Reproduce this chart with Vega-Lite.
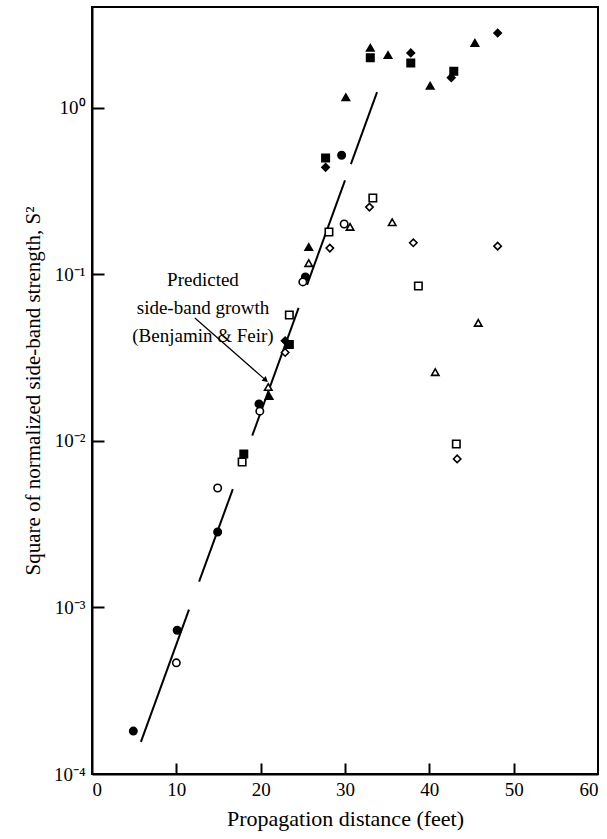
{
  "$schema": "https://vega.github.io/schema/vega-lite/v6.json",
  "width": 506,
  "height": 767,
  "autosize": "none",
  "padding": {"left": 92, "top": 7, "right": 9, "bottom": 65},
  "background": "white",
  "config": {
    "view": {"stroke": "black", "strokeWidth": 2},
    "font": "Liberation Serif",
    "axis": {"grid": false, "domainColor": "black", "domainWidth": 2, "tickColor": "black", "tickWidth": 2, "labelColor": "black", "titleColor": "black", "labelFont": "Liberation Serif", "titleFont": "Liberation Serif", "titleFontWeight": "normal", "zindex": 1}
  },
  "resolve": {"axis": {"x": "independent", "y": "independent"}},
  "datasets": {
    "points": [
      {"x": 4.9, "y": 0.000181, "shape": "circle", "fill": "solid"},
      {"x": 10.1, "y": 0.00073, "shape": "circle", "fill": "solid"},
      {"x": 14.9, "y": 0.00284, "shape": "circle", "fill": "solid"},
      {"x": 19.8, "y": 0.0167, "shape": "circle", "fill": "solid"},
      {"x": 25.3, "y": 0.0966, "shape": "circle", "fill": "solid"},
      {"x": 29.6, "y": 0.52, "shape": "circle", "fill": "solid"},
      {"x": 10.0, "y": 0.000465, "shape": "circle", "fill": "open"},
      {"x": 14.9, "y": 0.00522, "shape": "circle", "fill": "open"},
      {"x": 19.9, "y": 0.0151, "shape": "circle", "fill": "open"},
      {"x": 25.0, "y": 0.0902, "shape": "circle", "fill": "open"},
      {"x": 29.9, "y": 0.201, "shape": "circle", "fill": "open"},
      {"x": 21.0, "y": 0.0186, "shape": "triangle-up", "fill": "solid"},
      {"x": 25.7, "y": 0.146, "shape": "triangle-up", "fill": "solid"},
      {"x": 30.1, "y": 1.16, "shape": "triangle-up", "fill": "solid"},
      {"x": 33.0, "y": 2.3, "shape": "triangle-up", "fill": "solid"},
      {"x": 35.1, "y": 2.08, "shape": "triangle-up", "fill": "solid"},
      {"x": 40.1, "y": 1.36, "shape": "triangle-up", "fill": "solid"},
      {"x": 45.4, "y": 2.46, "shape": "triangle-up", "fill": "solid"},
      {"x": 20.9, "y": 0.0211, "shape": "triangle-up", "fill": "open"},
      {"x": 25.7, "y": 0.117, "shape": "triangle-up", "fill": "open"},
      {"x": 30.6, "y": 0.193, "shape": "triangle-up", "fill": "open"},
      {"x": 35.6, "y": 0.206, "shape": "triangle-up", "fill": "open"},
      {"x": 40.7, "y": 0.0259, "shape": "triangle-up", "fill": "open"},
      {"x": 45.8, "y": 0.0512, "shape": "triangle-up", "fill": "open"},
      {"x": 18.0, "y": 0.00835, "shape": "square", "fill": "solid"},
      {"x": 23.4, "y": 0.038, "shape": "square", "fill": "solid"},
      {"x": 27.7, "y": 0.5, "shape": "square", "fill": "solid"},
      {"x": 33.0, "y": 2.0, "shape": "square", "fill": "solid"},
      {"x": 37.8, "y": 1.86, "shape": "square", "fill": "solid"},
      {"x": 42.9, "y": 1.66, "shape": "square", "fill": "solid"},
      {"x": 22.9, "y": 0.04, "shape": "diamond", "fill": "solid"},
      {"x": 27.7, "y": 0.44, "shape": "diamond", "fill": "solid"},
      {"x": 37.8, "y": 2.14, "shape": "diamond", "fill": "solid"},
      {"x": 42.6, "y": 1.52, "shape": "diamond", "fill": "solid"},
      {"x": 48.1, "y": 2.82, "shape": "diamond", "fill": "solid"},
      {"x": 17.8, "y": 0.00748, "shape": "square", "fill": "open"},
      {"x": 23.4, "y": 0.0571, "shape": "square", "fill": "open"},
      {"x": 28.1, "y": 0.18, "shape": "square", "fill": "open"},
      {"x": 33.3, "y": 0.288, "shape": "square", "fill": "open"},
      {"x": 38.7, "y": 0.0853, "shape": "square", "fill": "open"},
      {"x": 43.2, "y": 0.00959, "shape": "square", "fill": "open"},
      {"x": 22.9, "y": 0.034, "shape": "diamond", "fill": "open"},
      {"x": 28.2, "y": 0.144, "shape": "diamond", "fill": "open"},
      {"x": 32.9, "y": 0.254, "shape": "diamond", "fill": "open"},
      {"x": 38.1, "y": 0.155, "shape": "diamond", "fill": "open"},
      {"x": 43.3, "y": 0.0078, "shape": "diamond", "fill": "open"},
      {"x": 48.1, "y": 0.148, "shape": "diamond", "fill": "open"}
    ],
    "theory": [
      {"x": 5.8, "y": 0.000156, "seg": 1},
      {"x": 11.5, "y": 0.00097, "seg": 1},
      {"x": 12.7, "y": 0.00143, "seg": 2},
      {"x": 16.7, "y": 0.00514, "seg": 2},
      {"x": 19.0, "y": 0.01076, "seg": 3},
      {"x": 24.5, "y": 0.063, "seg": 3},
      {"x": 25.5, "y": 0.0867, "seg": 4},
      {"x": 30.0, "y": 0.367, "seg": 4},
      {"x": 30.7, "y": 0.46, "seg": 5},
      {"x": 33.8, "y": 1.245, "seg": 5}
    ]
  },
  "layer": [
    {
      "data": {"name": "theory"},
      "mark": {"type": "line", "color": "black", "strokeWidth": 2},
      "encoding": {
        "x": {"field": "x", "type": "quantitative", "scale": {"domain": [0, 60], "nice": false},
          "axis": {"orient": "bottom", "values": [0, 10, 20, 30, 40, 50, 60], "ticks": false, "labelFontSize": 19, "labelPadding": 6, "title": "Propagation distance (feet)", "titleFontSize": 22, "titlePadding": 9}},
        "y": {"field": "y", "type": "quantitative", "scale": {"type": "log", "domain": [0.0001, 4.04], "nice": false},
          "axis": {"orient": "left", "values": [0.0001, 0.001, 0.01, 0.1, 1], "ticks": false, "labelFontSize": 19, "labelPadding": 7,
            "labelExpr": "datum.value >= 0.5 ? '10⁰' : datum.value >= 0.05 ? '10⁻¹' : datum.value >= 0.005 ? '10⁻²' : datum.value >= 0.0005 ? '10⁻³' : '10⁻⁴'",
            "title": "Square of normalized side-band strength, S²", "titleFontSize": 21, "titlePadding": 10}},
        "detail": {"field": "seg", "type": "nominal"}
      }
    },
    {
      "data": {"values": [{"x": 12.2, "y": 0.0548, "x2": 20.6, "y2": 0.0232}]},
      "mark": {"type": "rule", "color": "black", "strokeWidth": 1.2},
      "encoding": {
        "x": {"field": "x", "type": "quantitative",
          "axis": {"orient": "bottom", "offset": -11, "tickSize": 11, "ticks": true, "values": [10, 20, 30, 40, 50], "domain": false, "labels": false, "title": null}},
        "y": {"field": "y", "type": "quantitative",
          "axis": {"orient": "left", "offset": -12, "tickSize": 12, "ticks": true, "values": [0.001, 0.01, 0.1, 1], "domain": false, "labels": false, "title": null}},
        "x2": {"field": "x2"},
        "y2": {"field": "y2"}
      }
    },
    {
      "data": {"values": [{"x": 20.6, "y": 0.0232}]},
      "mark": {"type": "point", "shape": "triangle-up", "filled": true, "color": "black", "size": 40, "angle": 131, "opacity": 1},
      "encoding": {
        "x": {"field": "x", "type": "quantitative", "axis": null},
        "y": {"field": "y", "type": "quantitative", "axis": null}
      }
    },
    {
      "data": {"values": [{"x": 13.16, "y": 0.0927, "label": ["Predicted", "side-band growth", "(Benjamin & Feir)"]}]},
      "mark": {"type": "text", "fontSize": 19, "font": "Liberation Serif", "align": "center", "baseline": "middle", "lineHeight": 28, "color": "black"},
      "encoding": {
        "x": {"field": "x", "type": "quantitative", "axis": null},
        "y": {"field": "y", "type": "quantitative", "axis": null},
        "text": {"field": "label"}
      }
    },
    {
      "data": {"name": "points"},
      "mark": {"type": "point", "strokeWidth": 1.6, "size": 55, "opacity": 1},
      "encoding": {
        "x": {"field": "x", "type": "quantitative", "axis": null},
        "y": {"field": "y", "type": "quantitative", "axis": null},
        "shape": {"field": "shape", "type": "nominal", "scale": {"domain": ["circle", "square", "triangle-up", "diamond"], "range": ["circle", "square", "triangle-up", "diamond"]}, "legend": null},
        "fill": {"field": "fill", "type": "nominal", "scale": {"domain": ["solid", "open"], "range": ["black", "white"]}, "legend": null},
        "stroke": {"value": "black"}
      }
    }
  ]
}
